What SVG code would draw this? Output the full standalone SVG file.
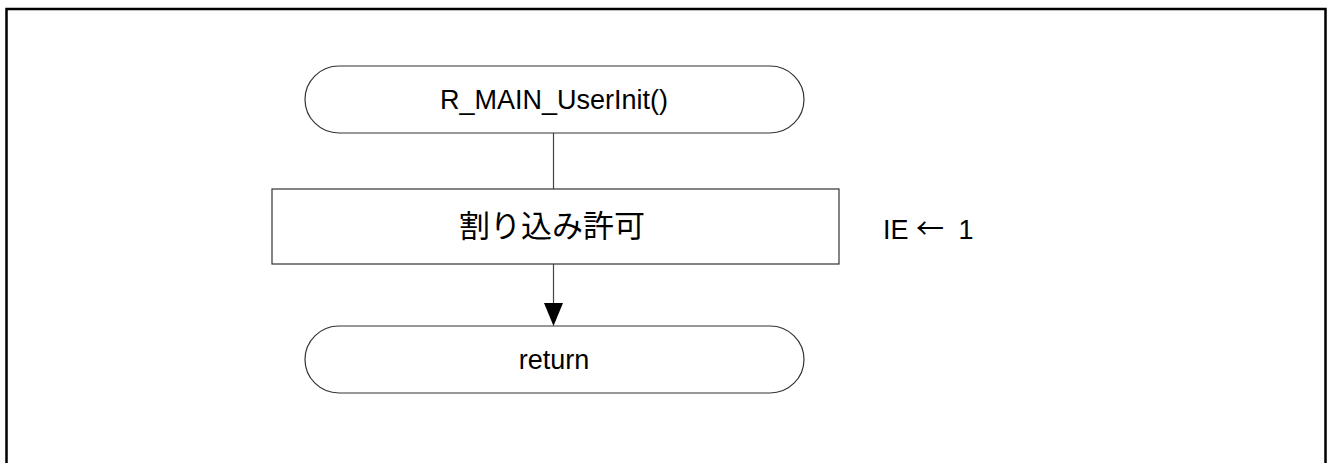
<svg xmlns="http://www.w3.org/2000/svg" width="1327" height="463" viewBox="0 0 1327 463">
<style>
.shape{fill:#fff;stroke:#333;stroke-width:1.2}
.conn{fill:none;stroke:#444;stroke-width:1.2}
.lbl{font-family:"Liberation Sans",Arial,sans-serif;font-size:27px;fill:#000}
.jp{font-family:"Liberation Sans","Noto Sans CJK JP",sans-serif;font-size:31px;fill:#000}
.arr{font-family:"Noto Sans CJK JP",sans-serif}
</style>
<rect width="1327" height="463" fill="#fff"/>
<path d="M6.5,463 V9 H1325.5 V463" fill="none" stroke="#000" stroke-width="2.5"/>
<g id="connectors">
<line class="conn" x1="553.5" y1="133" x2="553.5" y2="189"/>
<line class="conn" x1="553.5" y1="264" x2="553.5" y2="304"/>
<polygon points="544,303 563,303 553.5,326" fill="#000"/>
</g>
<g id="start">
<path class="shape" d="M339,66 H770 A34,33.5 0 0 1 770,133 H339 A34,33.5 0 0 1 339,66 Z"/>
<text class="lbl" x="554" y="109" text-anchor="middle">R_MAIN_UserInit()</text>
</g>
<g id="enable">
<rect class="shape" x="272" y="189" width="567" height="75"/>
<text class="jp" x="552" y="237" text-anchor="middle">割り込み許可</text>
</g>
<g id="note">
<text class="lbl" x="883" y="239" font-size="24">IE <tspan class="arr" font-size="28">←</tspan> <tspan dx="7">1</tspan></text>
</g>
<g id="end">
<path class="shape" d="M339,326 H770 A34,33.5 0 0 1 770,393 H339 A34,33.5 0 0 1 339,326 Z"/>
<text class="lbl" x="554" y="369" text-anchor="middle">return</text>
</g>
</svg>
